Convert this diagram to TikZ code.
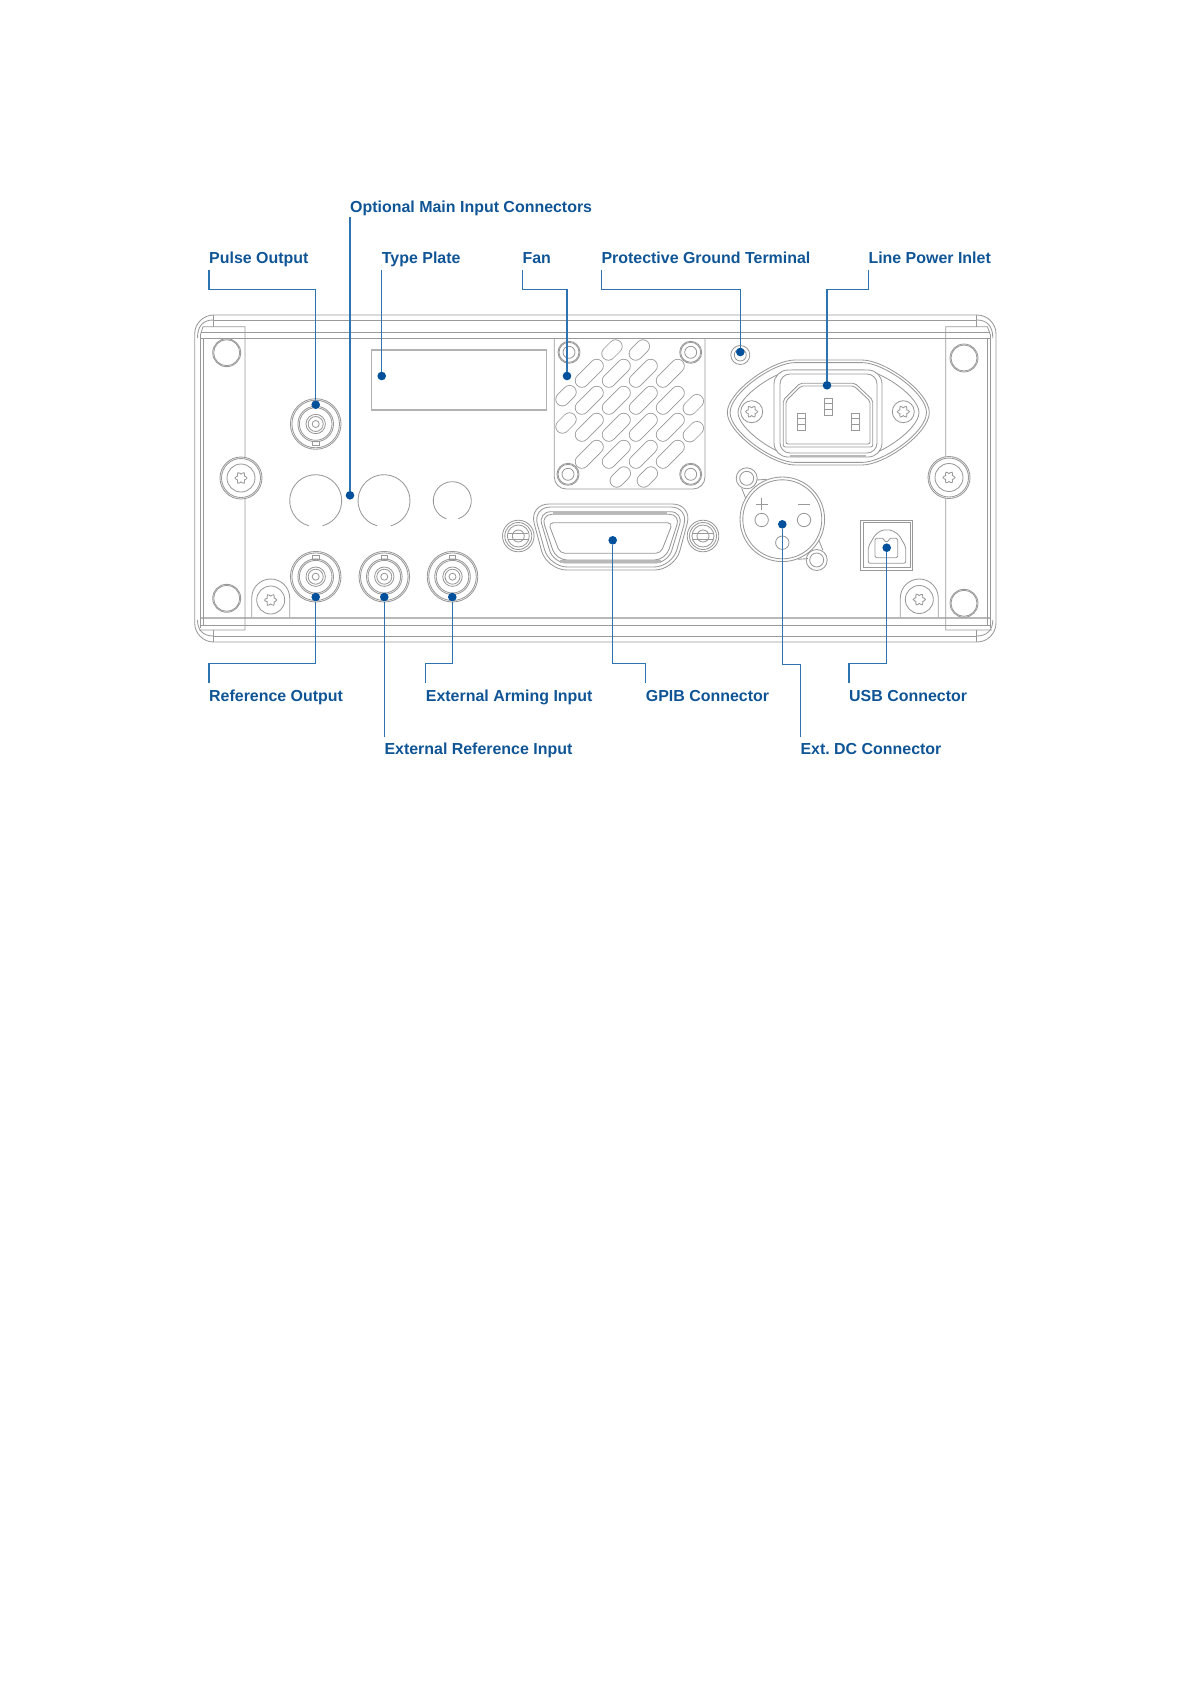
\documentclass[tikz,border=0pt]{standalone}
\usepackage{fontspec}
\setmainfont{Liberation Sans}
\definecolor{panelgray}{gray}{0.6}
\definecolor{leaderblue}{RGB}{45,115,178}
\definecolor{dotblue}{RGB}{0,80,155}
\definecolor{textblue}{RGB}{15,85,150}
\tikzset{
  panelline/.style={draw=panelgray,line width=0.85pt},
  thickpanel/.style={draw=panelgray!70,line width=2.2pt},
  slothole/.style={draw=panelgray,line width=0.85pt,double=white,double distance=12.4pt,line cap=round},
  leader/.style={draw=leaderblue,line width=1.15pt},
  dotmark/.style={circle,fill=dotblue,inner sep=0pt,minimum size=8.6pt},
  partlabel/.style={anchor=base west,inner sep=0pt,text=textblue,font=\bfseries\fontsize{15.95}{18}\selectfont}
}
% screw with a torx head: x, y, radius
\newcommand{\torxscrew}[3]{
  \filldraw[panelline,fill=white] (#1,#2) circle (#3);
  \draw[panelline] plot[smooth cycle,domain=0:345,samples=24,variable=\t]
    ({#1+(5+1.1*cos(6*\t))*cos(\t)},{#2+(5+1.1*cos(6*\t))*sin(\t)});
}
% BNC jack: x, y, side of the key (-1 top, 1 bottom)
\newcommand{\bncjack}[3]{
  \draw[panelline] (#1,#2) circle (25.3);
  \draw[panelline] (#1,#2) circle (23.8);
  \draw[panelline] (#1,#2) circle (17.8);
  \draw[panelline] (#1,#2) circle (16.3);
  \draw[panelline] (#1,#2) circle (9.7);
  \draw[panelline] (#1,#2) circle (7.5);
  \draw[panelline] (#1,#2) circle (3.5);
  \draw[panelline] (#1-3.3,#2+#3*21.7) rectangle (#1+3.3,#2+#3*17.6);
}
% blade of the power inlet: x, y
\newcommand{\inletpin}[2]{
  \draw[panelline] (#1-4,#2-8.5) rectangle (#1+4,#2+8.5);
  \draw[panelline] (#1-4,#2-3) -- (#1+4,#2-3);
  \draw[panelline] (#1-4,#2+3) -- (#1+4,#2+3);
}
\begin{document}
\begin{tikzpicture}[x=1pt,y=-1pt]
\useasboundingbox (0,0) rectangle (1191,1684);
% housing
\draw[panelline,rounded corners=19pt] (194.7,315) rectangle (996,642);
\draw[panelline] (213.3,320) -- (976.7,320);
\draw[panelline] (200.7,332.3) -- (990,332.3);
\draw[panelline] (200.7,338.3) -- (990,338.3);
\draw[thickpanel] (200.7,618) -- (990,618);
\draw[panelline] (200.7,625) -- (990,625);
\draw[panelline] (213.3,636) -- (976.7,636);
\draw[panelline] (197.5,338) .. controls (197.5,326) and (203,320) .. (213.3,320);
\draw[panelline] (197.5,620) .. controls (197.5,630) and (203,636) .. (213.3,636);
\draw[panelline] (992.8,338) .. controls (992.8,326) and (987,320) .. (976.7,320);
\draw[panelline] (992.8,620) .. controls (992.8,630) and (987,636) .. (976.7,636);
% left flange
\draw[panelline] (213.3,315) -- (213.3,326.7);
\draw[panelline] (213.3,630) -- (213.3,642);
\draw[panelline] (200.7,334) -- (203,326.7) -- (245,326.7) -- (245,630) -- (199,630);
\draw[panelline] (200.7,334) -- (200.7,628);
\draw[panelline] (203.5,338) -- (203.5,625);
\draw[panelline] (226.7,352.7) circle (14);
\draw[panelline] (226.7,352.7) circle (13);
\draw[panelline] (226.7,598.3) circle (14);
\draw[panelline] (226.7,598.3) circle (13);
\torxscrew{241}{478}{21}
\draw[panelline] (241,478) circle (19.5);
\draw[panelline] (241,478) circle (14);
% right flange
\draw[panelline] (976.7,315) -- (976.7,326.7);
\draw[panelline] (976.7,630) -- (976.7,642);
\draw[panelline] (990,334) -- (987.5,326.7) -- (945.7,326.7) -- (945.7,630) -- (992,630);
\draw[panelline] (990,334) -- (990,628);
\draw[panelline] (987.7,338) -- (987.7,625);
\draw[panelline] (964,358) circle (14);
\draw[panelline] (964,358) circle (13);
\draw[panelline] (964,603.3) circle (14);
\draw[panelline] (964,603.3) circle (13);
\torxscrew{949}{477.5}{21}
\draw[panelline] (949,477.5) circle (19.5);
\draw[panelline] (949,477.5) circle (14);
% tabs at the bottom
\draw[panelline] (251.7,617) -- (251.7,598) arc[start angle=180,end angle=360,radius=19] -- (289.7,617);
\torxscrew{270.7}{600}{14}
\draw[panelline] (900.3,617) -- (900.3,598) arc[start angle=180,end angle=360,radius=19] -- (938.3,617);
\torxscrew{919.3}{599.5}{14}
% type plate
\draw[panelgray!75,line width=1.2pt] (371.7,350) rectangle (546.7,410);
% jacks
\bncjack{315.7}{424}{1}
\bncjack{315.7}{576.7}{-1}
\bncjack{384.3}{576.7}{-1}
\bncjack{452.5}{576.7}{-1}
% blanked holes
\draw[panelline] (315.7,500.7) ++(105:26) arc[start angle=105,end angle=435,radius=26];
\draw[panelline] (384,500.7) ++(105:26) arc[start angle=105,end angle=435,radius=26];
\draw[panelline] (452.3,500.7) ++(108:19) arc[start angle=108,end angle=432,radius=19];
% fan plate
\draw[panelline,rounded corners=12pt] (554.3,338) -- (554.3,489) -- (705,489) -- (705,338);
\foreach \px/\py in {569/352.3,690.7/352.3,568/474.3,690.7/474.3}{
  \draw[panelline] (\px,\py) circle (11);
  \draw[panelline] (\px,\py) circle (10);
  \draw[panelline] (\px,\py) circle (6);
}
\foreach \sy in {373.3,400.3,427.3,454.3}{
  \foreach \sx in {589.3,616.3,643.3,670.3}{
    \draw[slothole] (\sx-7.4,\sy+7.4) -- (\sx+7.4,\sy-7.4);
  }
}
\foreach \sx/\sy in {612/350,639.3/350,566/395.7,566/423,693.3/404.7,693.3/431.7,620.3/477,647.3/477}{
  \draw[slothole] (\sx-3.6,\sy+3.6) -- (\sx+3.6,\sy-3.6);
}
% ground terminal
\draw[panelline] (740.3,355) circle (9.5);
\draw[panelline] (740.3,355) circle (6);
% line power inlet
\draw[panelline] (795,360) -- (862,360) .. controls (885,360) and (929.3,392) .. (929.3,412.5) .. controls (929.3,433) and (885,465) .. (862,465) -- (795,465) .. controls (772,465) and (727.3,433) .. (727.3,412.5) .. controls (727.3,392) and (772,360) .. (795,360) -- cycle;
\draw[panelline] (795,362.6) -- (862,362.6) .. controls (884,362.6) and (926.5,393) .. (926.5,412.5) .. controls (926.5,432) and (884,462.4) .. (862,462.4) -- (795,462.4) .. controls (773,462.4) and (730.1,432) .. (730.1,412.5) .. controls (730.1,393) and (773,362.6) .. (795,362.6) -- cycle;
\draw[panelline] (795,370) -- (862,370) .. controls (880,370) and (919,396) .. (919,412.5) .. controls (919,429) and (880,456) .. (862,456) -- (795,456) .. controls (777,456) and (738,429) .. (738,412.5) .. controls (738,396) and (777,370) .. (795,370) -- cycle;
\filldraw[panelline,fill=white,rounded corners=14pt] (774,370) rectangle (882,457);
\draw[panelline,rounded corners=10pt] (780,374) rectangle (877,453);
\draw[thickpanel] (790,456) -- (866,456);
\draw[panelline,rounded corners=2pt] (800,383.3) -- (855,383.3) -- (872.7,400) -- (872.7,447) -- (783.3,447) -- (783.3,400) -- cycle;
\draw[panelline,rounded corners=2pt] (801,386) -- (854,386) -- (870,401) -- (870,444) -- (786,444) -- (786,401) -- cycle;
\inletpin{828.3}{406.7}
\inletpin{801}{421.7}
\inletpin{855}{421.7}
\torxscrew{751.7}{411.7}{11}
\torxscrew{903.3}{411.7}{11}
% GPIB
\foreach \gx in {518.3,703}{
  \draw[panelline] (\gx,536) circle (15.8);
  \draw[panelline] (\gx,536) circle (13.5);
  \draw[panelline] (\gx,536) circle (11);
  \draw[panelline] (\gx,536) circle (6);
  \draw[panelline] (\gx-10,533) -- (\gx+10,533);
  \draw[panelline] (\gx-10,539) -- (\gx+10,539);
}
\filldraw[panelline,fill=white,rounded corners=20pt] (529,504) -- (692.4,504) -- (674.7,570) -- (546.7,570) -- cycle;
\draw[panelline,rounded corners=18pt] (532.5,507) -- (688.9,507) -- (672,567) -- (549.4,567) -- cycle;
\draw[panelline,rounded corners=13pt] (538,511.7) -- (683.4,511.7) -- (668,563) -- (553.4,563) -- cycle;
\draw[panelline,rounded corners=11pt] (541,514.3) -- (680.4,514.3) -- (665.5,560) -- (556,560) -- cycle;
\draw[thickpanel] (553,513) -- (667,513);
\draw[thickpanel] (560,561.5) -- (661,561.5);
\draw[panelline,rounded corners=5pt] (548.3,522.7) -- (672.7,522.7) -- (660.7,553.3) -- (560,553.3) -- cycle;
% ext. DC connector
\filldraw[panelline,fill=white] (746.7,478.3) circle (10.5);
\draw[panelline] (746.7,478.3) circle (7);
\filldraw[panelline,fill=white] (816.7,560) circle (10.5);
\draw[panelline] (816.7,560) circle (7);
\draw[panelline] (756.7,480) -- (766.7,479.3);
\draw[panelline] (741.7,488.3) -- (745.7,498.3);
\draw[panelline] (807.9,558.6) -- (797.9,559.3);
\draw[panelline] (822.9,550.3) -- (818.9,540.3);
\filldraw[panelline,fill=white] (782.3,519.3) circle (42.3);
\draw[panelline] (782.3,519.3) circle (39.5);
\draw[panelline] (761.7,520) circle (6.7);
\draw[panelline] (804,520) circle (6.7);
\draw[panelline] (782.3,542.7) circle (6.7);
\draw[panelline] (755.7,504) -- (767.7,504);
\draw[panelline] (761.7,498) -- (761.7,510);
\draw[panelline] (798,504) -- (810,504);
% USB
\draw[panelline] (860.7,520) rectangle (912.7,570);
\draw[panelline] (863,522.5) rectangle (910.5,567.5);
\draw[panelline,rounded corners=2pt] (868.3,546.7) -- (868.3,563.3) -- (905.7,563.3) -- (905.7,546.7) -- (899,535) -- (891.7,530) -- (881.7,530) -- (875,535) -- cycle;
\draw[panelline,rounded corners=1.5pt] (875,538.3) -- (884,538.3) -- (884,541.5) -- (889,541.5) -- (889,538.3) -- (897.7,538.3) -- (897.7,557.7) -- (875,557.7) -- cycle;
% labels
\node[partlabel] (mainin) at (350,212) {Optional Main Input Connectors};
\node[partlabel] (pulse) at (209,263.3) {Pulse Output};
\node[partlabel] (plate) at (381.7,263.3) {Type Plate};
\node[partlabel] (fan) at (522.3,263.3) {Fan};
\node[partlabel] (ground) at (601.3,263.3) {Protective Ground Terminal};
\node[partlabel] (power) at (868.3,263.3) {Line Power Inlet};
\node[partlabel] (refout) at (209,701.7) {Reference Output};
\node[partlabel] (arming) at (425.7,701.7) {External Arming Input};
\node[partlabel] (gpib) at (645.7,701.7) {GPIB Connector};
\node[partlabel] (usb) at (849,701.7) {USB Connector};
\node[partlabel] (refin) at (384.3,754.3) {External Reference Input};
\node[partlabel] (extdc) at (800.3,754.3) {Ext.\ DC Connector};
% dots on the parts
\node[dotmark] (maindot) at (350,495.3) {};
\node[dotmark] (pulsedot) at (315.7,404.7) {};
\node[dotmark] (platedot) at (381.7,376) {};
\node[dotmark] (fandot) at (567,376) {};
\node[dotmark] (grounddot) at (740.3,352) {};
\node[dotmark] (powerdot) at (827,385.3) {};
\node[dotmark] (refoutdot) at (315.7,597) {};
\node[dotmark] (refindot) at (384.3,597) {};
\node[dotmark] (armingdot) at (452.3,597) {};
\node[dotmark] (gpibdot) at (612.7,540.3) {};
\node[dotmark] (extdcdot) at (782.3,524.3) {};
\node[dotmark] (usbdot) at (886.7,547.7) {};
% leaders
\draw[leader] ([yshift=-5pt]mainin.base west) -- (maindot);
\draw[leader] ([yshift=-7pt]pulse.base west) -- ++(0,19) -| (pulsedot);
\draw[leader] ([yshift=-7pt]plate.base west) -- (platedot);
\draw[leader] ([yshift=-7pt]fan.base west) -- ++(0,19) -| (fandot);
\draw[leader] ([yshift=-7pt]ground.base west) -- ++(0,19) -| (grounddot);
\draw[leader] ([yshift=-7pt]power.base west) -- ++(0,19) -| (powerdot);
\draw[leader] ([yshift=19pt]refout.base west) -- ++(0,-19) -| (refoutdot);
\draw[leader] ([yshift=19pt]arming.base west) -- ++(0,-19) -| (armingdot);
\draw[leader] ([yshift=19pt]gpib.base west) -- ++(0,-19) -| (gpibdot);
\draw[leader] ([yshift=19pt]usb.base west) -- ++(0,-19) -| (usbdot);
\draw[leader] ([yshift=17pt]refin.base west) -- (refindot);
\draw[leader] ([yshift=17pt]extdc.base west) -- ++(0,-73) -| (extdcdot);
\end{tikzpicture}
\end{document}
